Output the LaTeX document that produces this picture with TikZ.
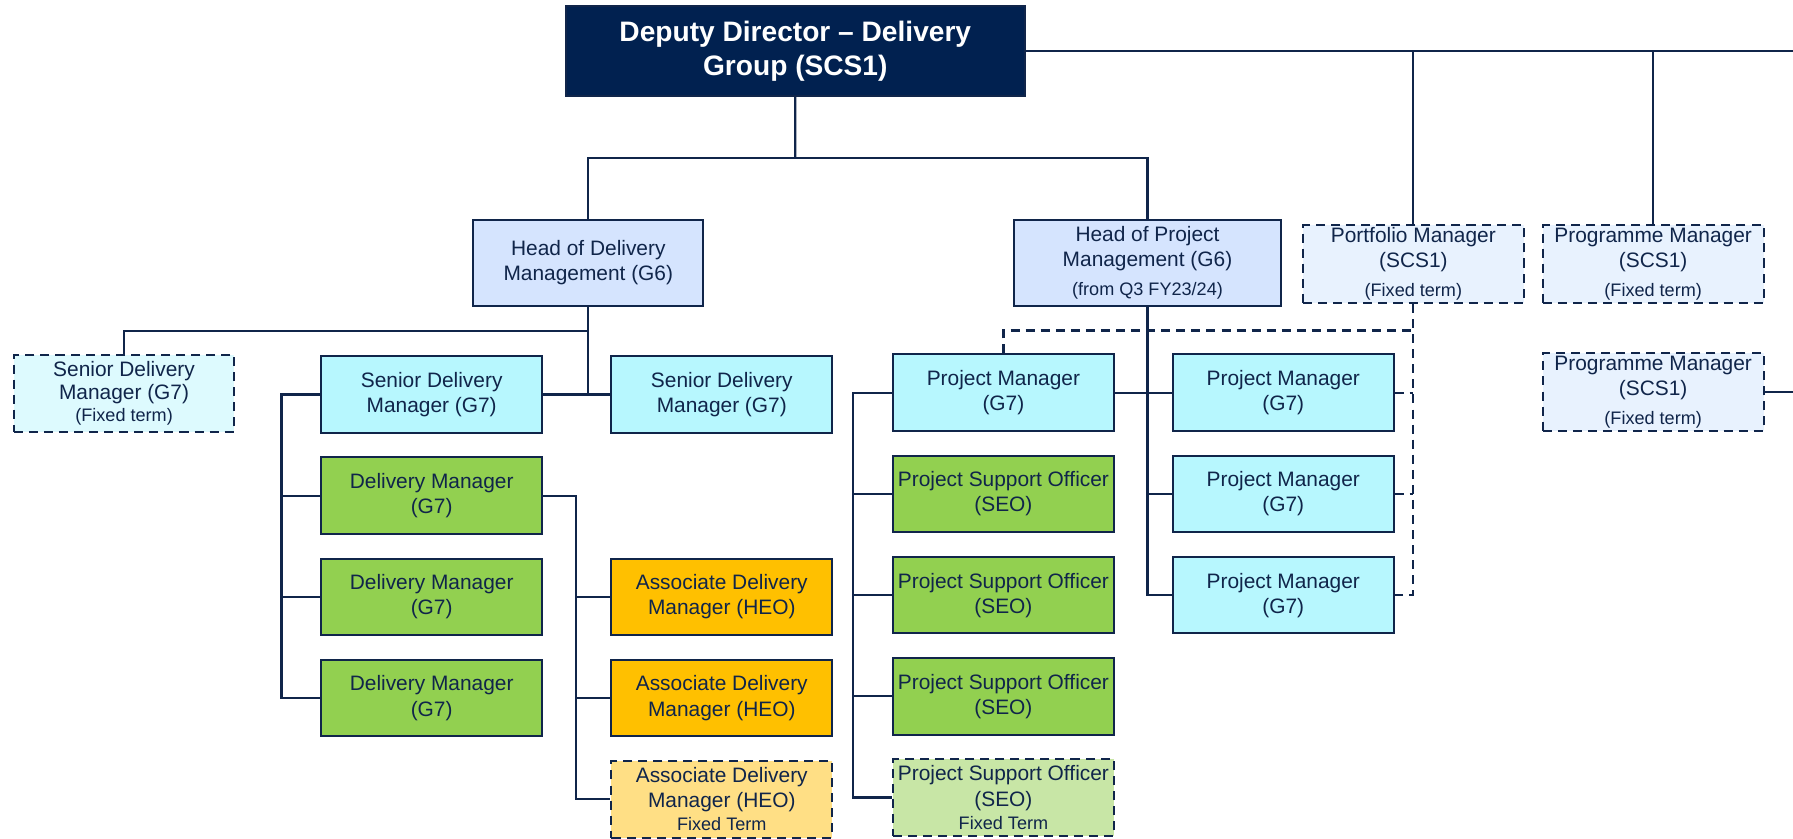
\documentclass[tikz,border=0pt]{standalone}
\usepackage{fontspec}
\setmainfont{Liberation Sans}
\usetikzlibrary{calc,positioning}
\definecolor{navy}{HTML}{10254A}
\definecolor{chieffill}{HTML}{012150}
\definecolor{headfill}{HTML}{D5E4FE}
\definecolor{seniorfill}{HTML}{B7F7FE}
\definecolor{seniorfixed}{HTML}{DDFAFE}
\definecolor{deliveryfill}{HTML}{92D050}
\definecolor{deliveryfixed}{HTML}{C8E6A6}
\definecolor{assocfill}{HTML}{FFC000}
\definecolor{assocfixed}{HTML}{FFDF85}
\definecolor{scsfill}{HTML}{E8F2FE}
\newcommand{\smalltxt}{\fontsize{9}{11}\selectfont}
\tikzset{%
	post/.style      = {draw=navy, line width=1pt, text=navy, align=center, inner sep=0pt,
	                    minimum width=3.86cm, minimum height=1.34cm, font=\fontsize{10.4}{12.5}\selectfont},
	chiefbox/.style  = {post, fill=chieffill, text=white, minimum width=8.02cm, minimum height=1.58cm,
	                    font=\bfseries\fontsize{14}{17}\selectfont},
	headbox/.style   = {post, fill=headfill, minimum width=4.02cm, minimum height=1.52cm},
	seniorbox/.style = {post, fill=seniorfill},
	deliverybox/.style = {post, fill=deliveryfill},
	assocbox/.style  = {post, fill=assocfill},
	fixedterm/.style = {dash pattern=on 4.5pt off 3pt},
	scsbox/.style    = {post, fixedterm, fill=scsfill, minimum height=1.36cm},
	link/.style      = {draw=navy, line width=1.1pt},
}
\begin{document}
\begin{tikzpicture}[x=0.02cm, y=-0.02cm]
	\useasboundingbox (0,0) rectangle (1568,733);
	% top of the chart
	\node[chiefbox] (dd) at (695.5,44.5) {Deputy Director – Delivery\\Group (SCS1)};
	\node[headbox] (hdm) at (514.5,230) {Head of Delivery\\Management (G6)};
	\node[headbox, minimum width=4.66cm] (hpm) at (1003.5,230) {Head of Project\\Management (G6)\\[2pt]{\smalltxt (from Q3 FY23/24)}};
	\node[scsbox] (port) at (1236,231) {Portfolio Manager\\(SCS1)\\[2pt]{\smalltxt (Fixed term)}};
	\node[scsbox, right=0.3cm of port] (prog1) {Programme Manager\\(SCS1)\\[2pt]{\smalltxt (Fixed term)}};
	\node[scsbox, below=0.84cm of prog1] (prog2) {Programme Manager\\(SCS1)\\[2pt]{\smalltxt (Fixed term)}};
	
	% delivery management
	\node[seniorbox, fixedterm, fill=seniorfixed] (sdmf) at (108.5,344) {Senior Delivery\\[-1.5pt]Manager (G7)\\[-1.5pt]{\smalltxt (Fixed term)}};
	\node[seniorbox] (sdm1) at (377.5,345) {Senior Delivery\\Manager (G7)};
	\node[seniorbox, right=1.18cm of sdm1] (sdm2) {Senior Delivery\\Manager (G7)};
	\node[deliverybox, below=0.395cm of sdm1] (dm1) {Delivery Manager\\(G7)};
	\node[deliverybox, below=0.395cm of dm1] (dm2) {Delivery Manager\\(G7)};
	\node[deliverybox, below=0.395cm of dm2] (dm3) {Delivery Manager\\(G7)};
	\node[assocbox, right=1.18cm of dm2] (adm1) {Associate Delivery\\Manager (HEO)};
	\node[assocbox, right=1.18cm of dm3] (adm2) {Associate Delivery\\Manager (HEO)};
	\node[assocbox, fixedterm, fill=assocfixed, below=0.395cm of adm2] (adm3) {Associate Delivery\\Manager (HEO)\\[-1pt]{\smalltxt Fixed Term}};
	
	% project management
	\node[seniorbox] (pm1) at (877.5,343.5) {Project Manager\\(G7)};
	\node[deliverybox, below=0.395cm of pm1] (pso1) {Project Support Officer\\(SEO)};
	\node[deliverybox, below=0.395cm of pso1] (pso2) {Project Support Officer\\(SEO)};
	\node[deliverybox, below=0.395cm of pso2] (pso3) {Project Support Officer\\(SEO)};
	\node[deliverybox, fixedterm, fill=deliveryfixed, below=0.395cm of pso3] (pso4) {Project Support Officer\\(SEO)\\[-1pt]{\smalltxt Fixed Term}};
	\node[seniorbox, right=1cm of pm1] (pm2) {Project Manager\\(G7)};
	\node[seniorbox, below=0.395cm of pm2] (pm3) {Project Manager\\(G7)};
	\node[seniorbox, below=0.395cm of pm3] (pm4) {Project Manager\\(G7)};
	
	% lines from the deputy director
	\coordinate (ddbus) at ($(dd.south)!0.5!(dd.south |- hdm.north)$);
	\coordinate (edge) at (1568,44.5);
	\draw[link] (dd.south) -- (ddbus);
	\draw[link] (hdm.north) |- (ddbus) -| (hpm.north);
	\draw[link] (dd.east) -- (edge);
	\draw[link] (port.north) -- (port.north |- edge);
	\draw[link] (prog1.north) -- (prog1.north |- edge);
	\draw[link] (prog2.east) -- (prog2.east -| edge);
	
	% delivery lines
	\coordinate (hdmbus) at ($(hdm.south)!0.5!(hdm.south |- sdm1.north)$);
	\draw[link] (hdm.south) -- (hdm.south |- sdm2.west);
	\draw[link] (hdmbus) -| (sdmf.north);
	\draw[link] (sdm1.east) -- (sdm2.west);
	\coordinate (dmbus) at ($(sdm1.west)+(-34,0)$);
	\draw[link] (sdm1.west) -- (dmbus) |- (dm3.west);
	\foreach \n in {dm1,dm2}
		\draw[link] (dmbus |- \n.west) -- (\n.west);
	\coordinate (admbus) at ($(dm1.east)+(29,0)$);
	\draw[link] (dm1.east) -- (admbus) |- (adm3.west);
	\foreach \n in {adm1,adm2}
		\draw[link] (admbus |- \n.west) -- (\n.west);
	
	% project lines
	\draw[link] (hpm.south) |- (pm4.west);
	\draw[link] (pm1.east) -- (pm2.west);
	\draw[link] (hpm.south |- pm3.west) -- (pm3.west);
	\coordinate (psobus) at ($(pm1.west)+(-34,0)$);
	\draw[link] (pm1.west) -- (psobus) |- (pso4.west);
	\foreach \n in {pso1,pso2,pso3}
		\draw[link] (psobus |- \n.west) -- (\n.west);
	
	% dashed lines to the portfolio manager
	\coordinate (hpmbus) at ($(hpm.south)!0.5!(hpm.south |- pm1.north)$);
	\draw[link, fixedterm] (port.south) |- (pm4.east);
	\draw[link, fixedterm] (pm1.north) |- (port.south |- hpmbus);
	\foreach \n in {pm2,pm3}
		\draw[link, fixedterm] (\n.east) -- (port.south |- \n.east);
\end{tikzpicture}
\end{document}
